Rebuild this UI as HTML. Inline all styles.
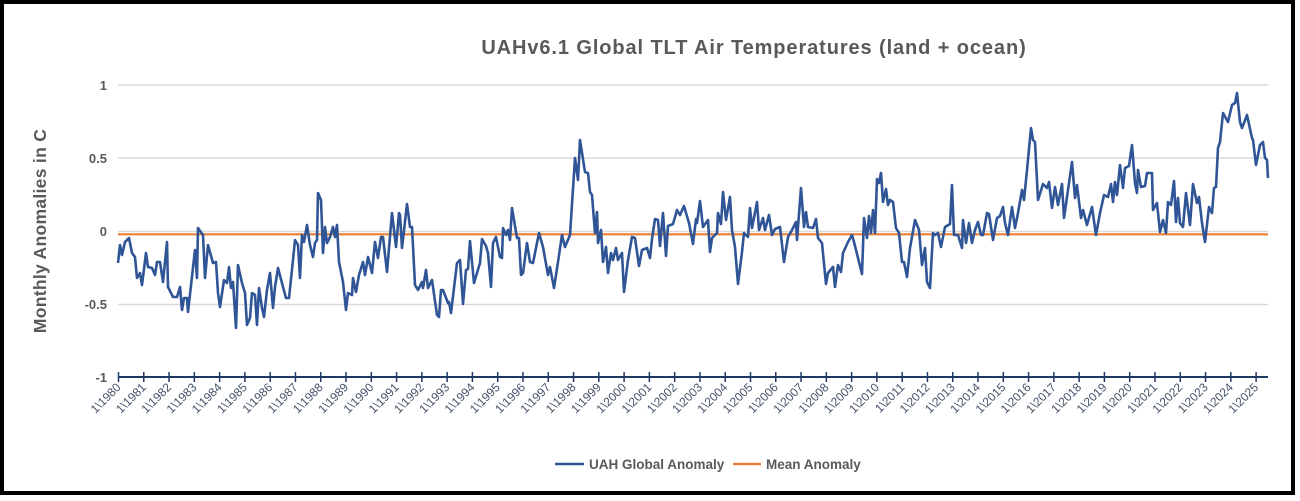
<!DOCTYPE html>
<html><head><meta charset="utf-8"><style>
html,body{margin:0;padding:0;background:#fff;}
svg{display:block;font-family:"Liberation Sans",sans-serif;}
</style></head><body>
<svg width="1300" height="501" viewBox="0 0 1300 501">
<rect x="0" y="0" width="1300" height="501" fill="#fff"/>
<rect x="2" y="2" width="1291" height="491" fill="none" stroke="#000" stroke-width="4"/>
<text x="754" y="54" text-anchor="middle" font-size="20" font-weight="bold" fill="#595959" letter-spacing="0.9">UAHv6.1 Global TLT Air Temperatures (land + ocean)</text>
<text transform="translate(46,231) rotate(-90)" text-anchor="middle" font-size="17.5" font-weight="bold" fill="#595959" letter-spacing="0.3">Monthly Anomalies in C</text>
<g stroke="#d9d9d9" stroke-width="1.5">
<line x1="118" y1="85" x2="1268" y2="85"/>
<line x1="118" y1="158" x2="1268" y2="158"/>
<line x1="118" y1="231.5" x2="1268" y2="231.5"/>
<line x1="118" y1="304.5" x2="1268" y2="304.5"/>
</g>
<g font-size="13" fill="#595959" text-anchor="end" font-weight="bold">
<text x="107" y="90">1</text>
<text x="107" y="163">0.5</text>
<text x="107" y="236">0</text>
<text x="107" y="309">-0.5</text>
<text x="107" y="382">-1</text>
</g>
<line x1="118" y1="234.3" x2="1268" y2="234.3" stroke="#ed7d31" stroke-width="2.2"/>
<polyline fill="none" stroke="#2f5597" stroke-width="2.6" stroke-linejoin="round" points="118,263 120,245 122,255 125,242 129,238 132,253 135,257 137,278 140,273 142,285 146,253 148,267 152,268 155,275 157,262 160,262 163,282 167,242 168,287 173,297 177,297 180,287 182,310 184,298 187,298 188,312 195,250 197,278 198,228 203,235 205,278 208,245 213,263 216,262 218,293 220,307 224,280 227,283 229,267 231,288 233,282 236,328 238,265 242,283 245,293 247,325 250,318 252,293 255,295 257,325 259,288 262,308 264,317 267,290 270,273 273,308 275,287 278,268 283,287 286,298 289,298 293,260 295,240 298,245 300,278 302,235 304,242 307,225 310,245 313,257 315,243 317,240 318,193 321,200 323,253 325,227 327,243 330,237 333,227 335,237 337,225 339,262 343,282 346,310 348,293 352,295 353,278 356,292 359,275 363,262 365,275 368,257 372,273 375,242 378,258 381,237 383,237 387,272 392,213 396,247 399,213 400,215 402,248 407,204 410,227 412,227 415,285 418,290 422,282 423,288 426,270 428,288 432,280 437,315 439,317 441,290 443,290 448,303 449,302 451,313 457,263 460,260 463,304 466,270 468,269 470,241 474,283 480,263 482,239 486,246 488,253 491,287 493,243 496,237 500,257 502,258 503,228 506,235 508,230 510,240 512,208 517,238 519,238 521,275 523,273 527,243 530,262 533,263 539,233 543,247 548,275 550,267 554,288 558,262 562,235 565,247 570,235 575,158 578,180 580,140 585,172 588,173 590,192 592,195 595,233 597,212 598,243 601,230 603,262 606,247 608,273 611,253 613,260 616,248 618,260 622,253 624,292 628,260 632,237 635,238 639,266 642,250 647,248 650,258 652,239 655,219 658,220 660,246 663,213 666,256 668,226 673,224 677,210 680,215 684,206 689,223 693,244 696,219 697,223 700,201 703,227 708,220 710,252 712,238 717,233 718,213 721,224 723,192 726,220 730,197 732,230 735,247 738,284 742,252 744,233 748,237 750,208 752,228 757,202 759,230 763,218 765,230 769,215 772,235 775,229 780,227 784,262 788,237 792,230 796,222 797,240 801,188 804,227 806,212 808,227 813,228 816,219 818,238 822,243 826,284 828,273 833,267 835,287 838,265 841,272 843,253 848,242 852,235 854,242 862,274 864,218 867,238 869,216 871,233 873,210 875,233 877,179 879,183 881,173 883,202 886,189 888,205 890,200 893,202 896,228 899,233 902,262 904,262 907,277 910,248 915,220 919,230 922,265 925,248 927,282 930,288 933,233 935,235 938,233 941,247 945,227 950,224 952,185 954,235 958,235 962,248 963,220 966,243 969,223 972,243 975,230 978,222 981,235 983,235 987,213 989,214 993,240 997,218 1000,216 1003,207 1005,223 1008,235 1012,207 1015,228 1018,213 1022,190 1024,200 1027,170 1031,128 1033,140 1035,142 1038,200 1043,184 1047,188 1049,182 1052,208 1055,187 1058,205 1062,184 1064,218 1072,162 1075,198 1077,185 1081,218 1083,210 1087,225 1092,207 1096,235 1100,213 1104,195 1108,197 1111,184 1113,202 1115,182 1117,195 1120,165 1123,188 1125,168 1129,166 1132,145 1135,183 1137,193 1138,170 1141,187 1145,186 1147,173 1152,173 1153,210 1157,203 1160,232 1163,220 1166,233 1168,202 1171,205 1174,181 1176,222 1178,198 1180,223 1183,227 1186,193 1190,225 1193,184 1197,203 1199,197 1202,223 1205,242 1209,207 1212,213 1214,188 1216,187 1218,148 1220,142 1223,113 1228,122 1232,105 1235,103 1237,93 1240,122 1242,128 1244,123 1247,115 1252,138 1253,140 1256,165 1260,145 1263,142 1265,158 1267,160 1268,178"/>
<line x1="118" y1="377" x2="1268" y2="377" stroke="#1f3864" stroke-width="2"/>
<g id="ticks" stroke="#1f3864" stroke-width="1.5"></g>
<g id="labels" font-size="12" fill="#44546a"></g>
<g font-size="13.5" fill="#595959" font-weight="bold">
<line x1="555" y1="464" x2="584" y2="464" stroke="#2f5597" stroke-width="2.6"/>
<text x="589" y="469">UAH Global Anomaly</text>
<line x1="733" y1="464" x2="761" y2="464" stroke="#ed7d31" stroke-width="2.2"/>
<text x="766" y="469">Mean Anomaly</text>
</g>
<script>
var t=document.getElementById('ticks'),l=document.getElementById('labels'),ns="http://www.w3.org/2000/svg";
for(var i=0;i<=45;i++){var x=118.5+i*25.28;
var ln=document.createElementNS(ns,'line');ln.setAttribute('x1',x);ln.setAttribute('x2',x);ln.setAttribute('y1',372);ln.setAttribute('y2',382);t.appendChild(ln);
var tx=document.createElementNS(ns,'text');tx.setAttribute('text-anchor','end');tx.setAttribute('transform','translate('+(x+3)+',388) rotate(-45)');tx.textContent='1\\'+(1980+i);l.appendChild(tx);}
</script>
</svg>
</body></html>
